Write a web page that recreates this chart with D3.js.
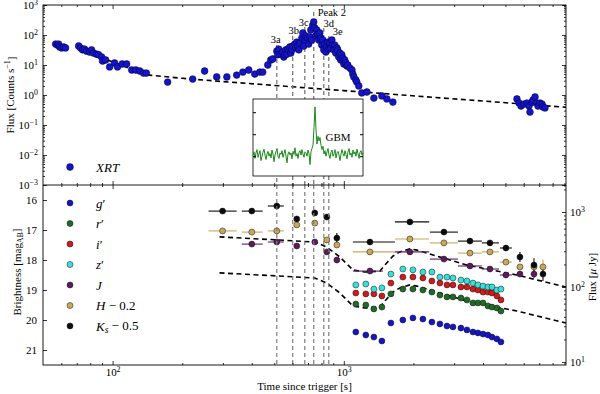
<!DOCTYPE html>
<html>
<head>
<meta charset="utf-8">
<script src="https://cdn.jsdelivr.net/npm/d3@7"></script>
<style>
body { margin: 0; background: #fff; }
svg text { font-family: "Liberation Serif", "DejaVu Serif", serif; }
</style>
</head>
<body>
<div id="chart"></div>
<script>
// ---- XRT light curve (counts/s) ----
const xrtTime = [56.7, 57.8, 58.4, 59, 60.2, 61.4, 62.6,
  71.3, 72.7, 74.1, 75.6, 77.2, 79.5, 81.1, 82.7, 85.2, 86.9, 89.6, 90.5, 93.3, 97.1, 102, 105, 110, 115, 121, 126, 131, 136, 140,
  173, 222, 250, 282, 312, 344, 366, 388, 412, 433, 446, 469, 483, 493,
  513, 518, 523, 534, 544, 550, 556, 561, 567, 573, 584, 590, 596, 602, 614, 620, 626, 632, 639, 645, 658, 665, 671, 678, 685,
  698, 705, 713, 720, 727, 734, 741, 749, 756, 764, 771, 779, 787, 795, 803, 811, 819, 827, 836, 844, 853, 861, 869, 878,
  888, 895, 905, 914, 923, 933, 941, 951, 961, 970, 980, 991, 1000, 1009, 1020, 1031, 1040, 1062, 1084, 1094, 1105, 1127,
  1138, 1161, 1196, 1258, 1349, 1461, 1535, 1630,
  5608, 5725, 5840, 6010, 6195, 6320, 6385, 6515, 6580, 6715, 6845, 6915, 7055, 7200, 7265, 7415];
const xrtFlux = [50, 46, 50, 40, 37, 40, 37,
  43, 37, 32, 34, 29, 27, 32, 25, 23, 22, 18.5, 13.6, 14.7, 8.6, 11.7, 8.6, 10.8, 10.8, 6.8, 6.8, 6.3, 5.4, 5.4,
  2.7, 3.4, 6.3, 4.0, 4.0, 4.6, 5.8, 6.8, 5.0, 5.8, 5.8, 10, 14.7, 16,
  29, 22, 34, 23, 27, 18.5, 22, 32, 23, 34, 40, 25, 32, 43, 50, 37, 58, 43, 32, 54, 79, 117, 43, 68, 93,
  79, 50, 86, 147, 68, 215, 271, 171, 93, 147, 108, 68, 117, 79, 46, 68, 32, 50, 27, 40, 58, 34, 54, 37,
  68, 46, 32, 46, 25, 37, 32, 18.5, 25, 14.7, 22, 17, 10.8, 14.7, 11.7, 9.3, 10, 7.9, 6.8, 5.0, 4.0, 3.16,
  2.7, 2.0, 1.17, 1.26, 0.79, 0.93, 0.74, 0.58,
  0.74, 0.54, 0.43, 0.5, 0.54, 0.43, 0.27, 0.58, 0.68, 0.86, 0.54, 0.43, 0.54, 0.5, 0.4, 0.37];
const xrtModelTime = [95, 120, 145, 200, 300, 1000, 9140];
const xrtModelFlux = [14.7, 7.4, 4.6, 3.6, 2.8, 1.4, 0.39];

// ---- flare episodes ----
const flareTime = [513, 601, 678, 741, 819, 861];
const flareTopFlux = [46, 93, 185, 580, 170, 93];
const flareLabels = ["3a", "3b", "3c", "Peak 2", "3d", "3e"];
const flareLabelTime = [508, 608, 671, 887, 861, 941];
const flareLabelFlux = [54, 108, 200, 430, 185, 100];

// ---- GBM inset (arbitrary units) ----
const gbmRate = [0.05, 0.2, -0.1, 0.15, 0.3, -0.05, 0.1, 0.25, -0.2, 0.0, 0.18, 0.32, 0.05, -0.15, 0.1, 0.22, 0.0, 0.12, -0.08, 0.28,
  0.1, -0.25, 0.05, 0.2, 0.35, 0.0, -0.1, 0.15, 0.08, 0.25, -0.05, 0.12, 0.3, 0.0, -0.3, 0.1, 0.2, 0.05, 0.15, -0.12,
  0.22, 0.08, 0.38, 0.0, 0.12, -0.1, 0.18, 0.25, 0.05, 0.3, 0.1, -0.05, 0.2, 0.15, 0.0, 0.28, 0.12, -0.38, 0.2, 0.35,
  0.5, 1.3, 2.24, 1.2, 0.55, 0.9, 0.7, 0.85, 0.5, 0.3, 0.45,
  0.1, 0.25, 0.0, 0.2, 0.35, 0.05, -0.1, 0.18, 0.28, 0.0, 0.12, 0.3, -0.08, 0.15, 0.22, 0.05, -0.2, 0.1, 0.3, 0.12,
  0.0, 0.25, 0.08, -0.12, 0.2, 0.35, 0.05, 0.15, -0.05, 0.28, 0.1, 0.2, 0.0, 0.32, 0.12, -0.1, 0.18, 0.25, 0.05, 0.15];

// ---- optical / NIR photometry (AB mag) ----
const grizTime = [1127, 1245, 1349, 1461, 1598, 1800, 1990, 2198, 2404, 2604, 2793, 2965, 3210, 3408, 3618, 3802, 3999, 4200, 4373, 4592, 4782];
const gMag = [20.4, 20.5, 20.57, 20.7, 20.1, 20.0, 19.93, 19.97, 20.07, 20.13, 20.2, 20.23, 20.27, 20.33, 20.4, 20.43, 20.47, 20.5, 20.57, 20.63, 20.73];
const rMag = [19.47, 19.5, 19.63, 19.57, 19.13, 18.97, 18.97, 19.0, 19.07, 19.17, 19.23, 19.23, 19.27, 19.33, 19.43, 19.43, 19.43, 19.53, 19.57, 19.6, 19.7];
const iMag = [19.1, 19.13, 19.13, 19.2, 18.77, 18.57, 18.57, 18.6, 18.7, 18.77, 18.83, 18.83, 18.9, 18.9, 18.97, 19.0, 19.07, 19.07, 19.1, 19.2, 19.33];
const zMag = [18.83, 18.8, 18.97, 18.93, 18.47, 18.3, 18.33, 18.4, 18.4, 18.57, 18.57, 18.6, 18.67, 18.7, 18.77, 18.83, 18.87, 18.9, 18.9, 19.0, 18.97];

const khTime = [299, 400, 513, 626, 749, 844, 933, 1297, 1931, 2710, 3512, 4285, 5024, 5778, 6645, 7266];
const khLo = [260, 362, 469, 612, 735, 833, 933, 1094, 1663, 2356, 3116, 3955, 4733, 5778, 6645, 7266];
const khHi = [344, 446, 550, 640, 763, 855, 933, 1663, 2340, 3116, 3955, 4690, 5333, 5778, 6645, 7266];
const kMag = [16.37, 16.37, 16.2, 16.63, 16.43, 16.57, 17.27, 17.4, 16.73, 17.07, 17.37, 17.43, 17.6, 17.9, 18.17, 18.47];
const kErr = [0.05, 0.05, 0.07, 0.1, 0.07, 0.07, 0.17, 0.1, 0.07, 0.07, 0.07, 0.07, 0.1, 0.17, 0.23, 0.23];
const hMag = [17.03, 17.07, 17.03, 16.83, 16.77, 17.33, 17.5, 17.73, 17.3, 17.43, 17.77, 17.73, 18.07, 18.23, 18.23, 18.23];
const hErr = [0.05, 0.05, 0.1, 0.07, 0.05, 0.07, 0.1, 0.07, 0.05, 0.05, 0.07, 0.07, 0.1, 0.1, 0.13, 0.25];

const jTime = [400, 513, 626, 749, 844, 933, 1297, 1931, 2710, 3512, 4285, 5024, 5778, 6645];
const jLo = [362, 469, 612, 735, 833, 933, 1094, 1663, 2356, 3116, 3955, 4733, 5778, 6645];
const jHi = [446, 550, 640, 763, 855, 933, 1476, 2340, 3116, 3955, 4690, 5333, 5778, 6645];
const jMag = [17.47, 17.4, 17.53, 17.4, 17.73, 18.0, 18.37, 17.73, 17.97, 18.2, 18.3, 18.5, 18.47, 18.47];
const jErr = [0.05, 0.05, 0.07, 0.05, 0.07, 0.1, 0.07, 0.05, 0.05, 0.07, 0.07, 0.1, 0.1, 0.13];

const modelTime = [290, 513, 749, 844, 961, 1094, 1233, 1432, 1520, 1630, 1747, 1931, 2070, 3405, 5607, 9140];
const modelUpperMag = [17.23, 17.33, 17.4, 17.57, 17.9, 18.33, 18.4, 18.37, 18.13, 17.87, 17.73, 17.63, 17.67, 18.17, 18.5, 18.9];
const modelLowerMag = [18.43, 18.53, 18.6, 18.77, 19.1, 19.53, 19.6, 19.57, 19.33, 19.07, 18.93, 18.83, 18.87, 19.37, 19.7, 20.1];

const magTicks = [16, 17, 18, 19, 20, 21];
const bandLabels = ["g′", "r′", "i′", "z′", "J", "H − 0.2", "K_s − 0.5"];
const bandColors = ["#1515c6", "#1f6b24", "#d11a1a", "#38e0dc", "#5b1c5e", "#c9a85a", "#0b0b0b"];

// ---- layout ----
const xL = 43, xR = 566, yT = 5, yM = 185, yB = 365;
const font = '"Liberation Serif", "DejaVu Serif", serif';

const svg = d3.select("#chart").append("svg")
  .attr("width", 600).attr("height", 394)
  .style("font-family", font);

function magToJy(m) { return Math.pow(10, (23.9 - m) / 2.5); }

const x = d3.scaleLog().domain([50, 9140]).range([xL, xR]);
const yTop = d3.scaleLog().domain([1e-3, 1e3]).range([yM, yT]);
const yMag = d3.scaleLinear().domain([15.5, 21.5]).range([yM, yB]);
const yJy = d3.scaleLog().domain([magToJy(15.5), magToJy(21.5)]).range([yM, yB]);

const defs = svg.append("defs");
defs.append("clipPath").attr("id", "clipTop").append("rect")
  .attr("x", xL).attr("y", yT).attr("width", xR - xL).attr("height", yM - yT);
defs.append("clipPath").attr("id", "clipBot").append("rect")
  .attr("x", xL).attr("y", yM).attr("width", xR - xL).attr("height", yB - yM);

const gTop = svg.append("g").attr("clip-path", "url(#clipTop)");
const gBot = svg.append("g").attr("clip-path", "url(#clipBot)");

// ---------- top panel ----------
const xrtLine = d3.line().x((d, i) => x(xrtModelTime[i])).y(d => yTop(d));
gTop.append("path")
  .attr("d", xrtLine(xrtModelFlux))
  .attr("fill", "none").attr("stroke", "#000")
  .attr("stroke-width", 1.6).attr("stroke-dasharray", "5,3.5");

gTop.append("g").selectAll("line")
  .data(flareTime)
  .join("line")
  .attr("x1", d => x(d)).attr("x2", d => x(d))
  .attr("y1", (d, i) => yTop(flareTopFlux[i])).attr("y2", yM)
  .attr("stroke", "#7a7a7a").attr("stroke-width", 1.3).attr("stroke-dasharray", "4,3");

gTop.append("g").selectAll("circle")
  .data(xrtFlux)
  .join("circle")
  .attr("cx", (d, i) => x(xrtTime[i]))
  .attr("cy", d => yTop(d))
  .attr("r", 3.4)
  .attr("fill", "#1515c6").attr("stroke", "#00003a").attr("stroke-width", 0.5);

svg.append("g").selectAll("text")
  .data(flareLabels)
  .join("text")
  .attr("x", (d, i) => x(flareLabelTime[i]))
  .attr("y", (d, i) => yTop(flareLabelFlux[i]))
  .attr("text-anchor", "middle")
  .attr("font-size", 10.5)
  .text(d => d);

// inset GBM
const ix = d3.scaleLinear().domain([0, gbmRate.length - 1]).range([253, 363]);
const iy = d3.scaleLinear().domain([-0.9, 2.6]).range([176, 99]);
const inset = svg.append("g");
inset.append("rect").attr("x", 253).attr("y", 99).attr("width", 110).attr("height", 77)
  .attr("fill", "#fff").attr("stroke", "#000").attr("stroke-width", 0.8);
inset.append("path")
  .attr("d", d3.line().x((d, i) => ix(i)).y(d => iy(d))(gbmRate))
  .attr("fill", "none").attr("stroke", "#1a8a1a").attr("stroke-width", 1);
inset.append("g").attr("transform", "translate(253,0)")
  .call(d3.axisLeft(iy).tickValues([0, 1, 2]).tickSizeInner(-3).tickSizeOuter(0).tickFormat(""))
  .call(g => g.select(".domain").remove());
inset.append("g").attr("transform", "translate(363,0)")
  .call(d3.axisRight(iy).tickValues([0, 1, 2]).tickSizeInner(-3).tickSizeOuter(0).tickFormat(""))
  .call(g => g.select(".domain").remove());
inset.append("text").attr("x", 338).attr("y", 141).attr("text-anchor", "middle")
  .attr("font-size", 11).text("GBM");

// ---------- bottom panel ----------
const magLine = d3.line().x((d, i) => x(modelTime[i])).y(d => yMag(d));
[modelUpperMag, modelLowerMag].forEach(arr => {
  gBot.append("path").attr("d", magLine(arr))
    .attr("fill", "none").attr("stroke", "#000")
    .attr("stroke-width", 1.6).attr("stroke-dasharray", "5,3.5");
});

function errorBand(times, lo, hi, mags, errs, color) {
  const g = gBot.append("g").attr("stroke", color).attr("stroke-width", 1.1);
  g.selectAll("line.h").data(mags).join("line").attr("class", "h")
    .attr("x1", (d, i) => x(lo[i])).attr("x2", (d, i) => x(hi[i]))
    .attr("y1", d => yMag(d)).attr("y2", d => yMag(d));
  g.selectAll("line.v").data(mags).join("line").attr("class", "v")
    .attr("x1", (d, i) => x(times[i])).attr("x2", (d, i) => x(times[i]))
    .attr("y1", (d, i) => yMag(d - errs[i])).attr("y2", (d, i) => yMag(d + errs[i]));
}
function dots(times, mags, color) {
  gBot.append("g").selectAll("circle").data(mags).join("circle")
    .attr("cx", (d, i) => x(times[i])).attr("cy", d => yMag(d))
    .attr("r", 3).attr("fill", color).attr("stroke", "#111").attr("stroke-width", 0.5);
}

errorBand(khTime, khLo, khHi, hMag, hErr, bandColors[5]);
errorBand(khTime, khLo, khHi, kMag, kErr, bandColors[6]);
errorBand(jTime, jLo, jHi, jMag, jErr, bandColors[4]);
dots(grizTime, gMag, bandColors[0]);
dots(grizTime, rMag, bandColors[1]);
dots(grizTime, iMag, bandColors[2]);
dots(grizTime, zMag, bandColors[3]);
dots(jTime, jMag, bandColors[4]);
dots(khTime, hMag, bandColors[5]);
dots(khTime, kMag, bandColors[6]);

gBot.append("g").selectAll("line")
  .data(flareTime)
  .join("line")
  .attr("x1", d => x(d)).attr("x2", d => x(d))
  .attr("y1", yM).attr("y2", yB)
  .attr("stroke", "#7a7a7a").attr("stroke-width", 1.3).attr("stroke-dasharray", "4,3")
  .attr("opacity", 0.9);

// ---------- axes ----------
function decades(a, b) { const r = []; for (let e = a; e <= b; e++) r.push(Math.pow(10, e)); return r; }
function minors(a, b, lo, hi) {
  const r = [];
  for (let e = a; e <= b; e++) for (let k = 2; k <= 9; k++) {
    const v = k * Math.pow(10, e);
    if (v > lo && v < hi) r.push(v);
  }
  return r;
}
function powLabel(sel) {
  sel.each(function (d) {
    const e = Math.round(Math.log10(d));
    const t = d3.select(this).text(null);
    t.append("tspan").text("10");
    t.append("tspan").attr("dy", "-0.5em").attr("font-size", "0.72em").text(e < 0 ? "−" + (-e) : e);
  });
}
function styleAxis(g) {
  g.attr("font-family", null).attr("font-size", 11);
  g.select(".domain").remove();
  g.selectAll("line").attr("stroke", "#000").attr("stroke-width", 0.8);
  g.selectAll("text").attr("fill", "#000");
}
function addAxis(axis, tx, ty) {
  return svg.append("g").attr("transform", `translate(${tx},${ty})`).call(axis).call(styleAxis);
}

const xMaj = [100, 1000];
const xMin = minors(1, 3, 50, 9140);
const fmt0 = () => "";

// x ticks: top of top panel, divider (both ways), bottom
addAxis(d3.axisTop(x).tickValues(xMaj).tickSizeInner(-4).tickSizeOuter(0).tickFormat(fmt0), 0, yT);
addAxis(d3.axisTop(x).tickValues(xMin).tickSizeInner(-2).tickSizeOuter(0).tickFormat(fmt0), 0, yT);
addAxis(d3.axisBottom(x).tickValues(xMaj).tickSizeInner(-4).tickSizeOuter(0).tickFormat(fmt0), 0, yM);
addAxis(d3.axisBottom(x).tickValues(xMin).tickSizeInner(-2).tickSizeOuter(0).tickFormat(fmt0), 0, yM);
addAxis(d3.axisTop(x).tickValues(xMaj).tickSizeInner(-4).tickSizeOuter(0).tickFormat(fmt0), 0, yM);
addAxis(d3.axisTop(x).tickValues(xMin).tickSizeInner(-2).tickSizeOuter(0).tickFormat(fmt0), 0, yM);
addAxis(d3.axisBottom(x).tickValues(xMaj).tickSizeInner(-4).tickSizeOuter(0).tickPadding(3), 0, yB)
  .selectAll(".tick text").call(powLabel);
addAxis(d3.axisBottom(x).tickValues(xMin).tickSizeInner(-2).tickSizeOuter(0).tickFormat(fmt0), 0, yB);

// top panel y
addAxis(d3.axisLeft(yTop).tickValues(decades(-3, 3)).tickSizeInner(-4).tickSizeOuter(0).tickPadding(5), xL, 0)
  .selectAll(".tick text").call(powLabel);
addAxis(d3.axisLeft(yTop).tickValues(minors(-3, 2, 1e-3, 1e3)).tickSizeInner(-2).tickSizeOuter(0).tickFormat(fmt0), xL, 0);
addAxis(d3.axisRight(yTop).tickValues(decades(-3, 3)).tickSizeInner(-4).tickSizeOuter(0).tickFormat(fmt0), xR, 0);
addAxis(d3.axisRight(yTop).tickValues(minors(-3, 2, 1e-3, 1e3)).tickSizeInner(-2).tickSizeOuter(0).tickFormat(fmt0), xR, 0);

// bottom panel y
addAxis(d3.axisLeft(yMag).tickValues(magTicks).tickSizeInner(-4).tickSizeOuter(0).tickPadding(6)
  .tickFormat(d3.format("d")), xL, 0);
addAxis(d3.axisRight(yJy).tickValues([10, 100, 1000]).tickSizeInner(-4).tickSizeOuter(0).tickPadding(4), xR, 0)
  .selectAll(".tick text").call(powLabel);
addAxis(d3.axisRight(yJy).tickValues(minors(1, 3, magToJy(21.5), magToJy(15.5))).tickSizeInner(-2).tickSizeOuter(0).tickFormat(fmt0), xR, 0);

// frames
svg.append("rect").attr("x", xL).attr("y", yT).attr("width", xR - xL).attr("height", yB - yT)
  .attr("fill", "none").attr("stroke", "#000").attr("stroke-width", 0.9);
svg.append("line").attr("x1", xL).attr("x2", xR).attr("y1", yM).attr("y2", yM)
  .attr("stroke", "#000").attr("stroke-width", 0.9);

// ---------- axis labels ----------
const lab1 = svg.append("text").attr("transform", "translate(13.5,95) rotate(-90)")
  .attr("text-anchor", "middle").attr("font-size", 11);
lab1.append("tspan").text("Flux [Counts s");
lab1.append("tspan").attr("dy", "-0.45em").attr("font-size", "0.72em").text("−1");
lab1.append("tspan").attr("dy", "0.45em").text("]");

const lab2 = svg.append("text").attr("transform", "translate(21,272) rotate(-90)")
  .attr("text-anchor", "middle").attr("font-size", 11);
lab2.append("tspan").text("Brightness [mag");
lab2.append("tspan").attr("dy", "0.3em").attr("font-size", "0.72em").text("AB");
lab2.append("tspan").attr("dy", "-0.3em").text("]");

const lab3 = svg.append("text").attr("transform", "translate(596,277) rotate(-90)")
  .attr("text-anchor", "middle").attr("font-size", 11);
lab3.append("tspan").text("Flux [");
lab3.append("tspan").attr("font-style", "italic").text("μ");
lab3.append("tspan").text(" Jy]");

svg.append("text").attr("x", (xL + xR) / 2).attr("y", 390)
  .attr("text-anchor", "middle").attr("font-size", 11).text("Time since trigger [s]");

// ---------- legends ----------
svg.append("circle").attr("cx", 70).attr("cy", 167).attr("r", 3.4)
  .attr("fill", "#1515c6").attr("stroke", "#00003a").attr("stroke-width", 0.5);
svg.append("text").attr("x", 96).attr("y", 172).attr("font-size", 13)
  .attr("font-style", "italic").text("XRT");

function mathLabel(t, s) {
  let rest = s.slice(1);
  t.append("tspan").attr("font-style", "italic").text(s[0]);
  if (rest.startsWith("_s")) {
    t.append("tspan").attr("font-style", "italic").attr("font-size", "0.72em").attr("dy", "0.25em").text("s");
    t.append("tspan").attr("dy", "-0.25em").text(rest.slice(2));
  } else {
    t.append("tspan").text(rest);
  }
}
const leg = svg.append("g");
bandLabels.forEach((s, i) => {
  const cy = 203 + i * 20.5;
  leg.append("circle").attr("cx", 70).attr("cy", cy).attr("r", 3)
    .attr("fill", bandColors[i]).attr("stroke", "#111").attr("stroke-width", 0.5);
  const t = leg.append("text").attr("x", 96).attr("y", cy + 4.5).attr("font-size", 13);
  mathLabel(t, s);
});
</script>
</body>
</html>
